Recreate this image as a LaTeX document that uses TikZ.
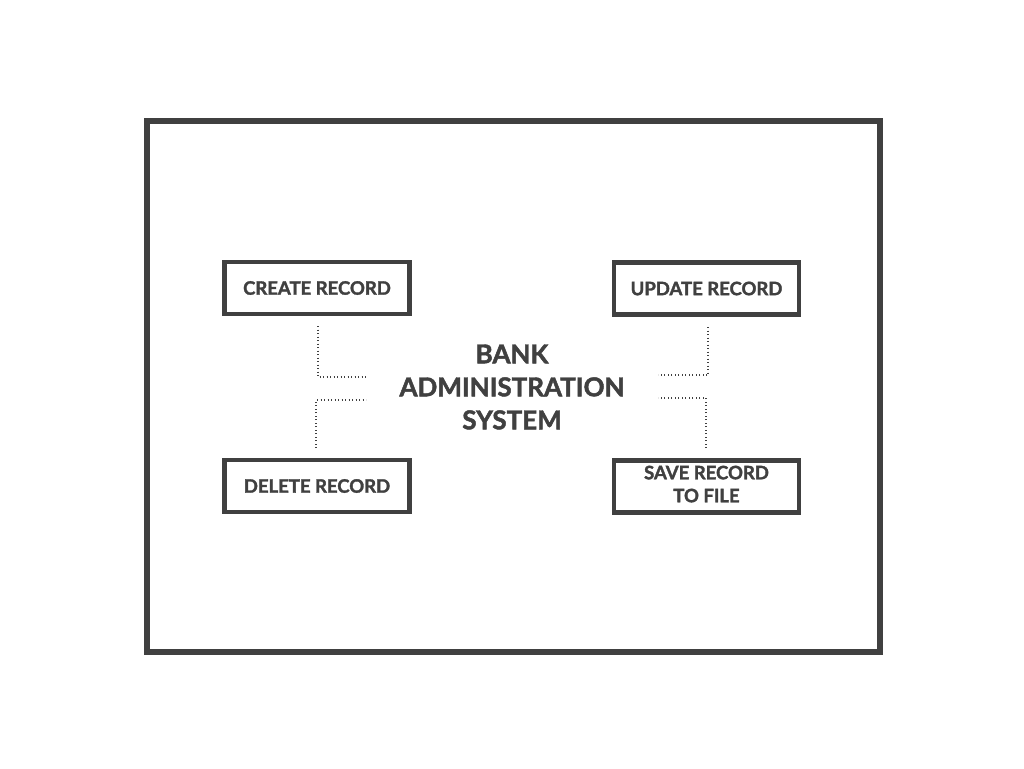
\documentclass[tikz,border=0pt]{standalone}
\usepackage{fontspec}
\setmainfont[BoldFeatures={FakeBold=1.8}]{Lato}
\definecolor{ink}{HTML}{404040}
\begin{document}
\begin{tikzpicture}[x=1pt,y=-1pt,
  frame/.style={draw=ink,line width=6pt},
  task/.style={draw=ink,line width=4.5pt,minimum width=185pt,minimum height=52pt,
    inner sep=0pt,text=ink,font=\bfseries\fontsize{18.5}{23}\selectfont,align=center},
  title/.style={text=ink,font=\bfseries\fontsize{26}{33}\selectfont,align=center},
  link/.style={draw=ink,line width=1.2pt,dash pattern=on 0.9pt off 2.6pt}]
  \useasboundingbox[fill=white] (0,0) rectangle (1024,768);
  % outer frame
  \draw[frame] (147,121) rectangle (880,652);
  % task boxes
  \node[task] (create) at (317,288) {CREATE RECORD};
  \node[task] (update) at (706.5,288.5) {UPDATE RECORD};
  \node[task] (delete) at (317,486) {DELETE RECORD};
  \node[task,text depth=5pt] (save) at (706.5,486.5) {SAVE RECORD\\TO FILE};
  % centre title
  \node[title] (sys) at (512,387) {BANK\\ADMINISTRATION\\SYSTEM};
  % connector end points
  \coordinate (c1) at (318,326);
  \coordinate (c2) at (366,377);
  \coordinate (d1) at (316,448);
  \coordinate (d2) at (366,400);
  \coordinate (u1) at (708,327);
  \coordinate (u2) at (658,375);
  \coordinate (s1) at (706,448);
  \coordinate (s2) at (658,398);
  \draw[link] (c1) |- (c2);
  \draw[link] (d1) |- (d2);
  \draw[link] (u1) |- (u2);
  \draw[link] (s1) |- (s2);
\end{tikzpicture}
\end{document}
